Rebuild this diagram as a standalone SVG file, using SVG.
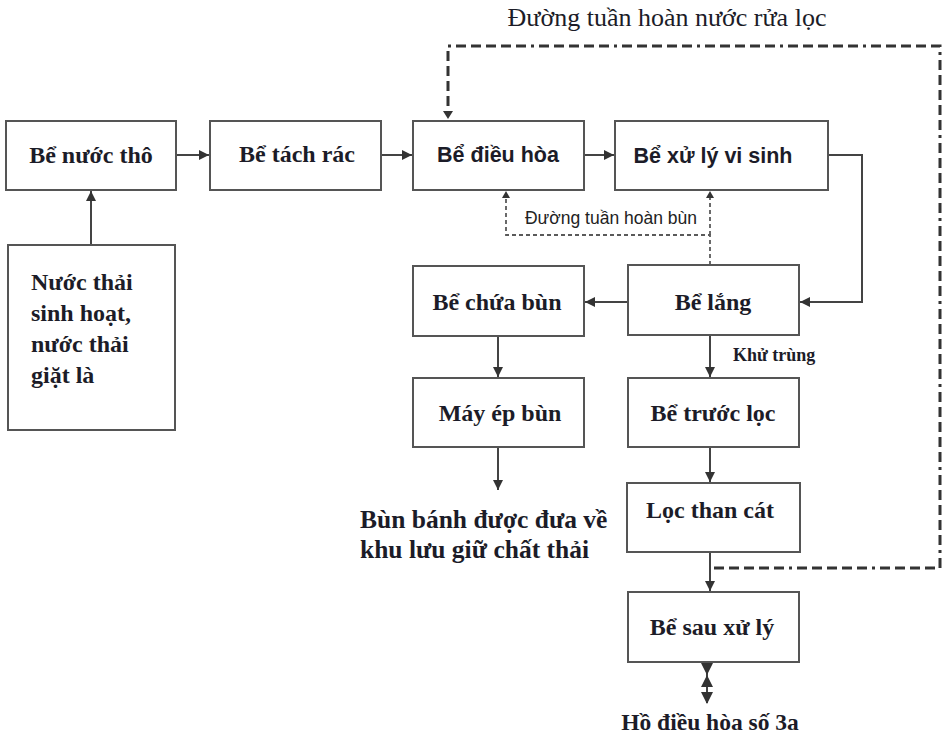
<svg xmlns="http://www.w3.org/2000/svg" width="945" height="751" viewBox="0 0 945 751">
  <style>
    .box { fill: #ffffff; stroke: #555555; stroke-width: 2; }
    .lbl { font-family: "Liberation Serif", "Times New Roman", serif; font-weight: bold; font-size: 24px; fill: #1c1c28; text-anchor: middle; }
    .lbl.left { text-anchor: start; }
    .lbls { font-family: "Liberation Sans", Arial, sans-serif; font-weight: bold; font-size: 21.5px; fill: #1c1c28; text-anchor: middle; }
    .flow { fill: none; stroke: #444444; stroke-width: 2; }
    .wash { fill: none; stroke: #333333; stroke-width: 3; stroke-dasharray: 10 5 10 5 10 5 10 5 10 5 3 5; }
    .sludge { fill: none; stroke: #5a5a5a; stroke-width: 1.8; stroke-dasharray: 4 3; }
    .note { font-family: "Liberation Serif", "Times New Roman", serif; fill: #1c1c28; }
  </style>
  <defs>
    <marker id="arr" viewBox="0 0 10 10" refX="10" refY="5" markerWidth="5" markerHeight="5" orient="auto" markerUnits="strokeWidth">
      <path d="M0,0 L10,5 L0,10 z" fill="#333333"/>
    </marker>
  </defs>

  <rect width="945" height="751" fill="#ffffff"/>

  <!-- connectors -->
  <g id="connectors">
    <line class="flow" x1="177" y1="155" x2="209" y2="155" marker-end="url(#arr)"/>
    <line class="flow" x1="381" y1="155" x2="412" y2="155" marker-end="url(#arr)"/>
    <line class="flow" x1="584" y1="155" x2="614" y2="155" marker-end="url(#arr)"/>
    <line class="flow" x1="91" y1="245" x2="91" y2="191" marker-end="url(#arr)"/>
    <polyline class="flow" points="828,155 862,155 862,302 800,302" marker-end="url(#arr)"/>
    <line class="flow" x1="628" y1="302" x2="585" y2="302" marker-end="url(#arr)"/>
    <line class="flow" x1="498" y1="336" x2="498" y2="377" marker-end="url(#arr)"/>
    <line class="flow" x1="498" y1="447" x2="498" y2="490" marker-end="url(#arr)"/>
    <line class="flow" x1="710" y1="335" x2="710" y2="377" marker-end="url(#arr)"/>
    <line class="flow" x1="710" y1="447" x2="710" y2="482" marker-end="url(#arr)"/>
    <line class="flow" x1="710" y1="552" x2="710" y2="591" marker-end="url(#arr)"/>
    <!-- outlet from the final tank -->
    <line class="flow" x1="707" y1="662" x2="707" y2="703"/>
    <path d="M701,663 L713,663 L707,675 z M701,687 L713,687 L707,675 z M701,692 L713,692 L707,704 z" fill="#333333"/>
    <!-- filter backwash return -->
    <polyline class="wash" points="714,568 940,568 940,46 448,46 448,112"/>
    <path d="M443,111 L453,111 L448,119 z" fill="#333333"/>
    <!-- sludge return -->
    <polyline class="sludge" points="710,265 710,235 506,235 506,196"/>
    <line class="sludge" x1="710" y1="235" x2="710" y2="196"/>
    <path d="M502,198 L510,198 L506,191 z" fill="#333333"/>
    <path d="M706,198 L714,198 L710,191 z" fill="#333333"/>
  </g>

  <!-- nodes -->
  <g id="be-nuoc-tho">
    <rect class="box" x="6" y="121" width="170" height="69"/>
    <text class="lbl" x="91" y="163">Bể nước thô</text>
  </g>
  <g id="be-tach-rac">
    <rect class="box" x="210" y="121" width="171" height="69"/>
    <text class="lbl" x="297" y="162">Bể tách rác</text>
  </g>
  <g id="be-dieu-hoa">
    <rect class="box" x="413" y="121" width="171" height="69"/>
    <text class="lbls" x="498" y="162">Bể điều hòa</text>
  </g>
  <g id="be-xu-ly-vi-sinh">
    <rect class="box" x="615" y="121" width="213" height="69"/>
    <text class="lbls" x="713" y="163">Bể xử lý vi sinh</text>
  </g>
  <g id="nuoc-thai">
    <rect class="box" x="8" y="245" width="167" height="185"/>
    <text class="lbl left" x="31" y="290">Nước thải</text>
    <text class="lbl left" x="31" y="321">sinh hoạt,</text>
    <text class="lbl left" x="31" y="352">nước thải</text>
    <text class="lbl left" x="31" y="383">giặt là</text>
  </g>
  <g id="be-chua-bun">
    <rect class="box" x="413" y="266" width="171" height="70"/>
    <text class="lbl" x="497" y="310">Bể chứa bùn</text>
  </g>
  <g id="be-lang">
    <rect class="box" x="628" y="265" width="171" height="70"/>
    <text class="lbl" x="713" y="310">Bể lắng</text>
  </g>
  <g id="may-ep-bun">
    <rect class="box" x="413" y="378" width="171" height="69"/>
    <text class="lbl" x="500" y="421">Máy ép bùn</text>
  </g>
  <g id="be-truoc-loc">
    <rect class="box" x="628" y="378" width="171" height="69"/>
    <text class="lbl" x="713" y="421">Bể trước lọc</text>
  </g>
  <g id="loc-than-cat">
    <rect class="box" x="627" y="483" width="173" height="69"/>
    <text class="lbl" x="710" y="518">Lọc than cát</text>
  </g>
  <g id="be-sau-xu-ly">
    <rect class="box" x="628" y="592" width="171" height="70"/>
    <text class="lbl" x="712" y="635">Bể sau xử lý</text>
  </g>

  <!-- free labels -->
  <text class="note" x="667" y="26" font-size="26" text-anchor="middle">Đường tuần hoàn nước rửa lọc</text>
  <text x="611" y="224" font-family="Liberation Sans, Arial, sans-serif" font-size="17.5" fill="#222222" text-anchor="middle">Đường tuần hoàn bùn</text>
  <text class="note" x="733" y="361" font-size="18" font-weight="bold" fill="#3a4848">Khử trùng</text>
  <text class="note" x="360" y="528" font-size="25.5" font-weight="bold">Bùn bánh được đưa về</text>
  <text class="note" x="360" y="558" font-size="25.5" font-weight="bold">khu lưu giữ chất thải</text>
  <text class="note" x="710" y="730" font-size="23.5" font-weight="bold" text-anchor="middle">Hồ điều hòa số 3a</text>
</svg>
